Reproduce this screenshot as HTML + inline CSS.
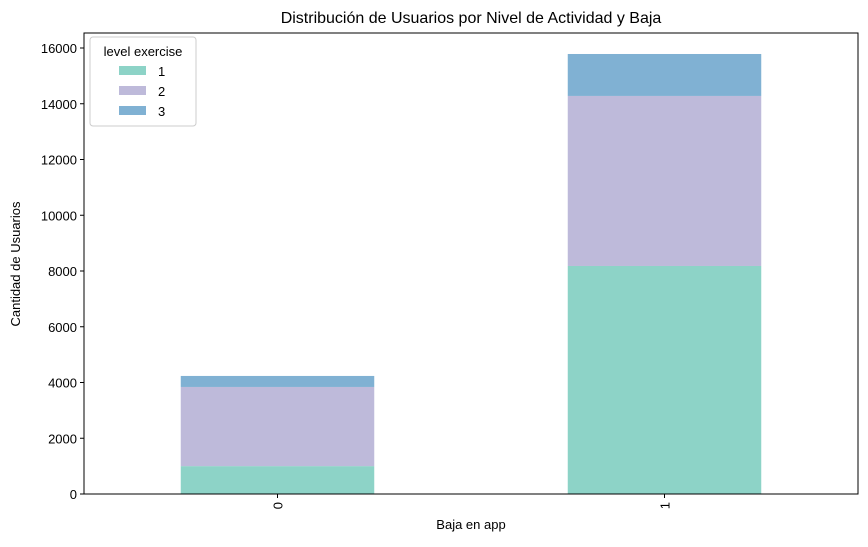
<!DOCTYPE html>
<html><head><meta charset="utf-8"><style>
body{margin:0;background:#fff;}
svg text{font-family:"Liberation Sans","DejaVu Sans",sans-serif;fill:#000;}
</style></head><body>
<svg id="chart" width="868" height="542" xmlns="http://www.w3.org/2000/svg">
<text x="471" y="23" font-size="16" text-anchor="middle">Distribución de Usuarios por Nivel de Actividad y Baja</text>
<g id="plot"></g>
<text x="471" y="529" font-size="13" text-anchor="middle">Baja en app</text>
<text transform="translate(20,264) rotate(-90)" font-size="13" text-anchor="middle">Cantidad de Usuarios</text>
</svg>
<script>
const categories = ["0", "1"];
const level1 = [1000, 8180];
const level2 = [2840, 6100];
const level3 = [395, 1505];
const seriesNames = ["1", "2", "3"];
const yTicks = [0, 2000, 4000, 6000, 8000, 10000, 12000, 14000, 16000];

const L = 84, R = 858, T = 33, B = 494;
const yMaxPx = 48;
const ns = "http://www.w3.org/2000/svg";
const g = document.getElementById('plot');
function y(v){ return B - (B - yMaxPx) * v / 16000; }
function x(i){ return L + (R - L) * (i + 0.5) / categories.length; }
const bw = (R - L) / categories.length * 0.5;
function mk(tag, attrs){ const e = document.createElementNS(ns, tag); for (const k in attrs) e.setAttribute(k, attrs[k]); g.appendChild(e); return e; }
const colors = ["#8dd3c7", "#bebada", "#80b1d3"];
const series = [level1, level2, level3];
categories.forEach((c, i) => {
  let base = 0;
  series.forEach((s, k) => {
    const r = mk('rect', {x: x(i) - bw / 2, y: y(base + s[i]), width: bw, height: y(base) - y(base + s[i]), fill: colors[k]});
    
    
    base += s[i];
  });
  const t = mk('line', {x1: x(i), x2: x(i), y1: B, y2: B + 4, stroke: '#000'});
  
  
  const tl = mk('text', {transform: `translate(${x(i) + 5},${B + 8}) rotate(-90)`, 'font-size': 13, 'text-anchor': 'end'});
  tl.textContent = c;
  
  
});
yTicks.forEach(v => {
  const t = mk('line', {x1: L - 4, x2: L, y1: y(v), y2: y(v), stroke: '#000'});
  
  
  const tl = mk('text', {x: L - 7, y: y(v) + 5, 'font-size': 13, 'text-anchor': 'end'});
  tl.textContent = v;
  
  
});
const frame = mk('rect', {x: L, y: T, width: R - L, height: B - T, fill: 'none', stroke: '#000', 'stroke-width': 1});


// legend
const lg = mk('rect', {x: 90, y: 37, width: 106, height: 89, rx: 3, fill: '#fff', 'fill-opacity': 0.8, stroke: '#ccc'});


const lt = mk('text', {x: 143, y: 56, 'font-size': 13, 'text-anchor': 'middle'});
lt.textContent = 'level exercise';


seriesNames.forEach((n, k) => {
  const yy = 66 + k * 20;
  const sw = mk('rect', {x: 119, y: yy, width: 27, height: 9, fill: colors[k]});
  
  
  const tx = mk('text', {x: 158, y: yy + 10, 'font-size': 13});
  tx.textContent = n;
  
  
});
</script>
</body></html>
